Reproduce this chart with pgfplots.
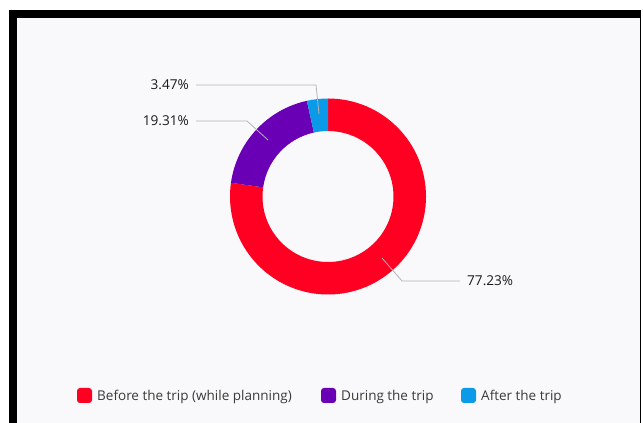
\documentclass[border=0pt]{standalone}
\usepackage{pgfplots}
\pgfplotsset{compat=1.18}
\usepackage{fontspec}
\setmainfont{Open Sans}
\definecolor{cRed}{HTML}{FF0022}
\definecolor{cPurple}{HTML}{6A00B5}
\definecolor{cBlue}{HTML}{0A9AE8}
\definecolor{bg}{HTML}{F9F9FB}
\definecolor{lead}{HTML}{B4B4B4}
\definecolor{txt}{HTML}{3A3A3A}
\definecolor{lbl}{HTML}{1A1A1A}
\begin{document}
\begin{tikzpicture}
\begin{axis}[hide axis, scale only axis, width=643bp, height=423bp,
  xmin=0, xmax=643, ymin=0, ymax=423, clip=false]
\fill[black] (axis cs:9,0) rectangle (axis cs:641,413);
\fill[bg] (axis cs:17,0) rectangle (axis cs:640,405);
% donut slices (percent / colour), clockwise from 12 o'clock
\xdef\astart{90}
\foreach \v/\c in {77.23/cRed,19.31/cPurple,3.47/cBlue}{
  \pgfmathsetmacro\aend{\astart-3.6*\v}
  \pgfmathsetmacro\xo{328+98*cos(\astart)}
  \pgfmathsetmacro\yo{226.5+98*sin(\astart)}
  \pgfmathsetmacro\xi{328+65.5*cos(\aend)}
  \pgfmathsetmacro\yi{226.5+65.5*sin(\aend)}
  \edef\doit{\noexpand\fill[\c] (axis cs:\xo,\yo) arc[start angle=\astart,end angle=\aend,radius=98bp] -- (axis cs:\xi,\yi) arc[start angle=\aend,end angle=\astart,radius=65.5bp] -- cycle;}
  \doit
  \xdef\astart{\aend}
}
% leader lines
\draw[lead, line width=0.8bp] (axis cs:196,338) -- (axis cs:316,338) -- (axis cs:319,309);
\draw[lead, line width=0.8bp] (axis cs:196,302) -- (axis cs:247,302) -- (axis cs:268,283);
\draw[lead, line width=0.8bp] (axis cs:382,165) -- (axis cs:402,142) -- (axis cs:460,142);
% labels
\node[anchor=base east, inner sep=0, text=lbl, font=\fontsize{13.6bp}{17bp}\selectfont] at (axis cs:189,333) {3.47\%};
\node[anchor=base east, inner sep=0, text=lbl, font=\fontsize{13.6bp}{17bp}\selectfont] at (axis cs:189,297) {19.31\%};
\node[anchor=base west, inner sep=0, text=lbl, font=\fontsize{13.6bp}{17bp}\selectfont] at (axis cs:467,137) {77.23\%};
% legend
\fill[cRed, rounded corners=3bp] (axis cs:77,20) rectangle (axis cs:92,35);
\fill[cPurple, rounded corners=3bp] (axis cs:321,20) rectangle (axis cs:336,35);
\fill[cBlue, rounded corners=3bp] (axis cs:461,20) rectangle (axis cs:476,35);
\node[anchor=base west, inner sep=0, text=txt, font=\fontsize{13.5bp}{17bp}\selectfont] at (axis cs:97,23) {Before the trip (while planning)};
\node[anchor=base west, inner sep=0, text=txt, font=\fontsize{13.5bp}{17bp}\selectfont] at (axis cs:341,23) {During the trip};
\node[anchor=base west, inner sep=0, text=txt, font=\fontsize{13.5bp}{17bp}\selectfont] at (axis cs:481,23) {After the trip};
\end{axis}
\pgfresetboundingbox
\path[use as bounding box] (0,0) rectangle (643bp,423bp);
\end{tikzpicture}
\end{document}
